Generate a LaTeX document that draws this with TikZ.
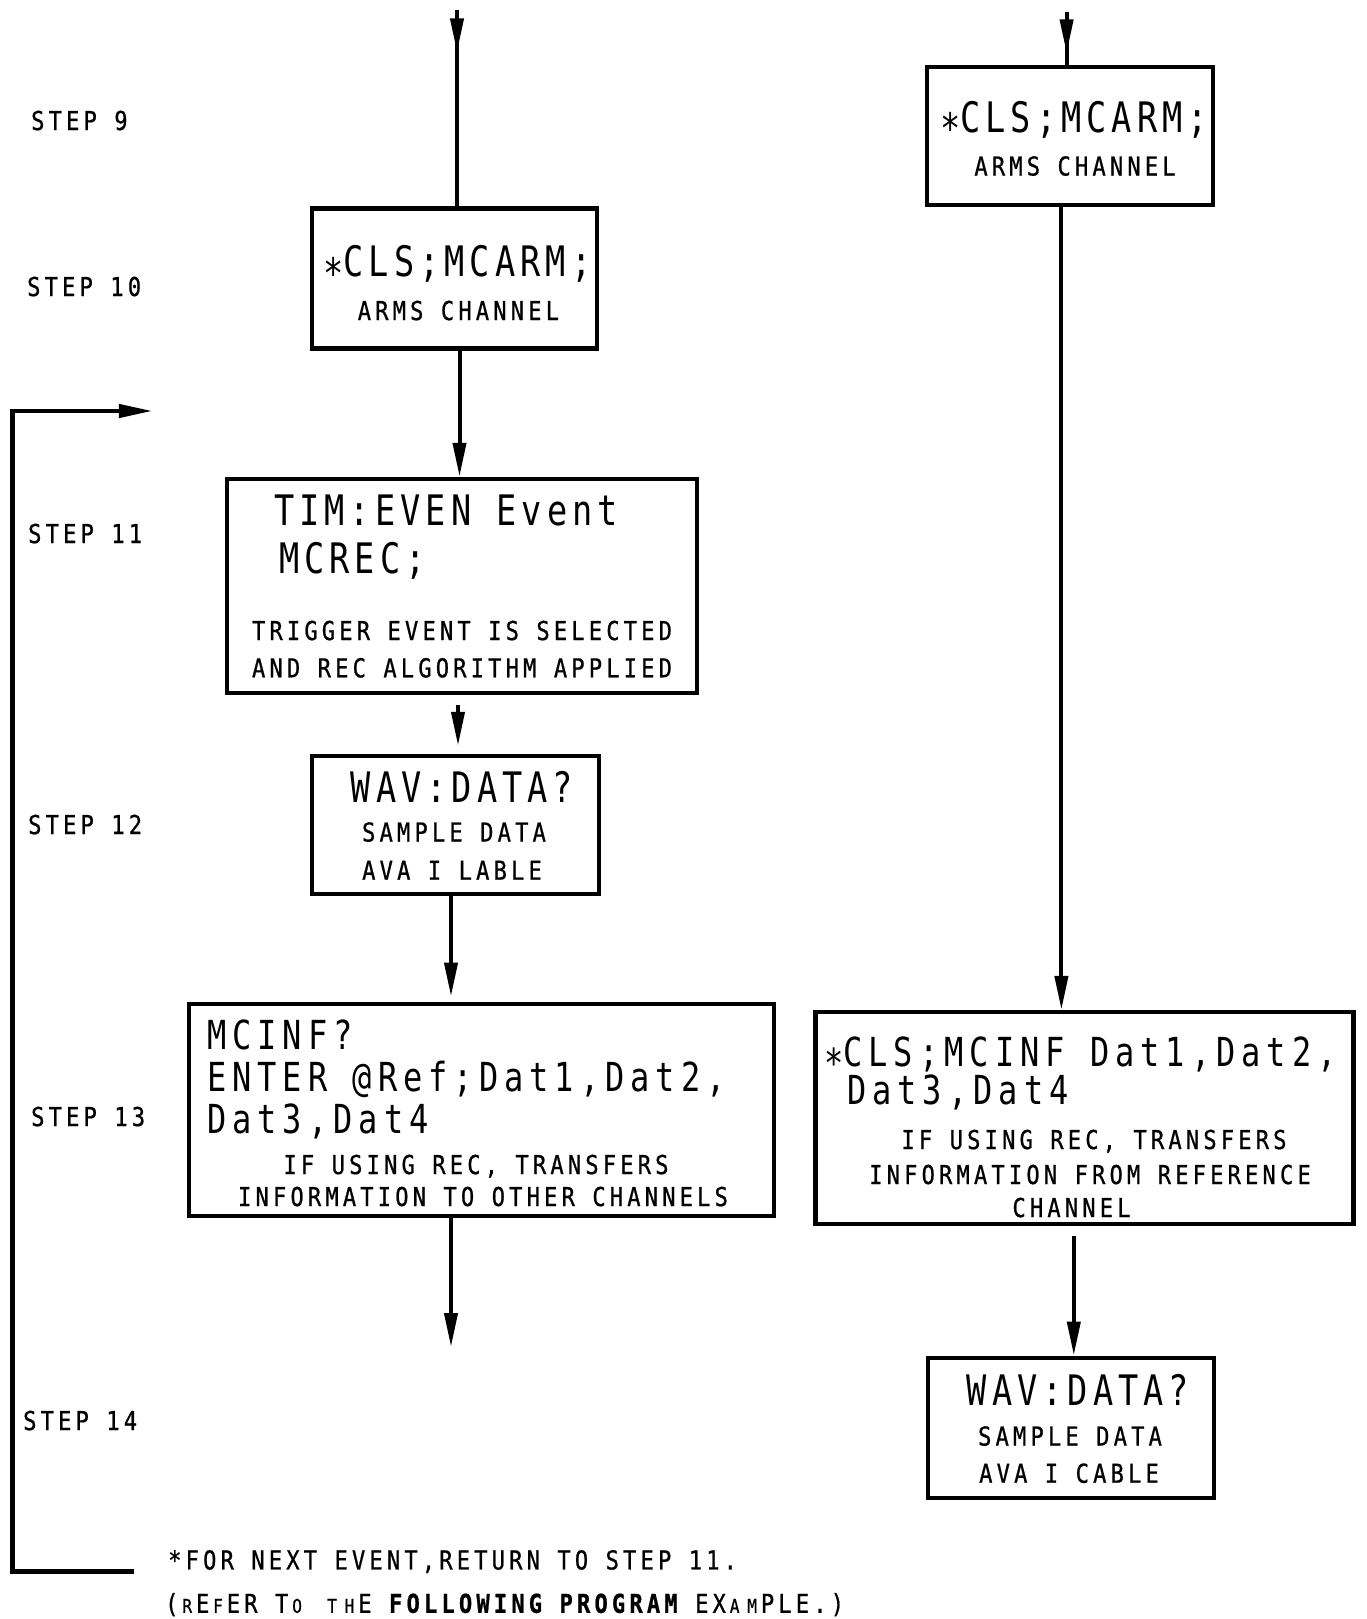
\documentclass[tikz,border=0pt]{standalone}
\usepackage{fontspec}
\setmainfont{DejaVu Sans Mono}
% plotter-like monospaced lettering: narrow glyphs on a wide, fixed pitch
\newfontfamily\codefont[FakeStretch=0.8,LetterSpace=12]{DejaVu Sans Mono}
\newfontfamily\codefontsm[FakeStretch=0.8,LetterSpace=15]{DejaVu Sans Mono}
\newfontfamily\labelfont[FakeStretch=0.85,LetterSpace=16,FakeBold=0.8]{DejaVu Sans Mono}
\usetikzlibrary{arrows.meta,calc}
% a reduced capital that still takes one full character cell
\newcommand\lowcap[1]{\makebox[17.5pt][c]{\fontsize{19pt}{19pt}\selectfont #1}}
% centred asterisk of the command lines
\newcommand\cmdstar{\raisebox{-0.27em}{*}}
\begin{document}
\begin{tikzpicture}[x=1pt,y=-1pt,
  box/.style={draw,line width=4.5pt,inner sep=0pt},
  conn/.style={line width=4pt},
  arr/.style={conn,-{Triangle[length=34pt,width=13pt]}},
  code/.style={inner sep=0pt,font=\codefont\fontsize{42pt}{42pt}\selectfont},
  codesm/.style={inner sep=0pt,font=\codefontsm\fontsize{40pt}{40pt}\selectfont},
  lbl/.style={inner sep=0pt,font=\labelfont\fontsize{26pt}{26pt}\selectfont},
  steplbl/.style={inner sep=0pt,anchor=base west,font=\labelfont\fontsize{26pt}{26pt}\selectfont},
]
\useasboundingbox (0,0) rectangle (1366,1619);

% step labels
\node[steplbl] (s9)  at (31,130)  {STEP 9};
\node[steplbl] (s10) at (27,296)  {STEP 10};
\node[steplbl] (s11) at (28,543)  {STEP 11};
\node[steplbl] (s12) at (28,834)  {STEP 12};
\node[steplbl] (s13) at (31,1126) {STEP 13};
\node[steplbl] (s14) at (23,1430) {STEP 14};

% boxes
\node[box,minimum width=285pt,minimum height=140pt] (b10)  at (454.5,278.7) {};
\node[box,minimum width=286pt,minimum height=138pt] (r9)   at (1070,136.2)  {};
\node[box,minimum width=470pt,minimum height=214pt] (b11)  at (462,586)     {};
\node[box,minimum width=287pt,minimum height=138pt] (b12)  at (455.4,825)   {};
\node[box,minimum width=585pt,minimum height=212pt] (b13)  at (481.7,1109.8){};
\node[box,minimum width=538pt,minimum height=212pt] (r13)  at (1084.6,1118.2){};
\node[box,minimum width=286pt,minimum height=140pt] (r14)  at (1071,1427.8)  {};

% box texts
\node[code,anchor=base] (b10a) at (457.4,276.7) {\cmdstar CLS;MCARM;};
\node[lbl,anchor=base]  (b10b) at (458.4,320)   {ARMS CHANNEL};

\node[code,anchor=base] (r9a) at (1074,132)   {\cmdstar CLS;MCARM;};
\node[lbl,anchor=base]  (r9b) at (1075,175.5) {ARMS CHANNEL};

\node[code,anchor=base west] (b11a) at (274,525.5) {TIM:EVEN Event};
\node[code,anchor=base west] (b11b) at (279,573)   {MCREC;};
\node[lbl,anchor=base] (b11c) at (462,640)   {TRIGGER EVENT IS SELECTED};
\node[lbl,anchor=base] (b11d) at (462,677.3) {AND REC ALGORITHM APPLIED};

\node[code,anchor=base] (b12a) at (462,802)   {WAV:DATA?};
\node[lbl,anchor=base]  (b12b) at (454,841.5) {SAMPLE DATA};
\node[lbl,anchor=base]  (b12c) at (452,879.7) {AVA I LABLE};

\node[codesm,anchor=base west] (b13a) at (207,1049)   {MCINF?};
\node[codesm,anchor=base west] (b13b) at (207,1091.4) {ENTER @Ref;Dat1,Dat2,};
\node[codesm,anchor=base west] (b13c) at (207,1133.7) {Dat3,Dat4};
\node[lbl,anchor=base] (b13d) at (476,1174) {IF USING REC, TRANSFERS};
\node[lbl,anchor=base] (b13e) at (483,1206) {INFORMATION TO OTHER CHANNELS};

\node[codesm,anchor=base west] (r13a) at (824,1066.6)  {\cmdstar CLS;MCINF Dat1,Dat2,};
\node[codesm,anchor=base west] (r13b) at (847,1104.5)  {Dat3,Dat4};
\node[lbl,anchor=base] (r13c) at (1094,1149)  {IF USING REC, TRANSFERS};
\node[lbl,anchor=base] (r13d) at (1090,1184)  {INFORMATION FROM REFERENCE};
\node[lbl,anchor=base] (r13e) at (1071.5,1217){CHANNEL};

\node[code,anchor=base] (r14a) at (1078,1405)   {WAV:DATA?};
\node[lbl,anchor=base]  (r14b) at (1070,1445.5) {SAMPLE DATA};
\node[lbl,anchor=base]  (r14c) at (1069,1482.7) {AVA I CABLE};

% footnote
\node[steplbl] (n1) at (168,1569.4) {*FOR NEXT EVENT,RETURN TO STEP 11.};
\node[steplbl] (n2) at (165,1612.8)
  {(\lowcap{R}E\lowcap{F}ER T\lowcap{O} \lowcap{T}\lowcap{H}E {\bfseries FOLLOWING PROGRAM} EX\lowcap{A}\lowcap{M}PLE.)};

% free ends of the flow
\coordinate (inL)  at (457,10.3);
\coordinate (inR)  at (1066.6,12.4);
\coordinate (outL) at (451,1347);
\coordinate (fbA)  at (134,1571.5);
\coordinate (fbB)  at (12.4,1571.5);
\coordinate (fbC)  at (12.4,411);
\coordinate (fbD)  at (152.8,411);

% left column connectors
\draw[conn] (inL) -- (inL |- b10.north);
\draw[arr]  (inL) -- ++(0,42);
\draw[arr] ($(b10.south)+(5,0)$) -- ($(b10.south |- b11.north)+(5,0)$);
\draw[arr] ($(b11.south)+(-4,10)$) -- ($(b11.south |- b12.north)+(-4,-8)$);
\draw[arr] ($(b12.south)+(-4.4,0)$) -- ($(b12.south |- b13.north)+(-4.4,-5)$);
\draw[arr] (b13.south -| outL) -- (outL);

% right column connectors
\draw[conn] (inR) -- (inR |- r9.north);
\draw[arr]  (inR) -- ++(0,41);
\draw[arr] ($(r9.south)+(-8.6,0)$) -- ($(r9.south |- r13.north)+(-8.6,0)$);
\draw[arr] ($(r13.south)+(-10.8,10)$) -- ($(r13.south |- r14.north)+(-10.8,0)$);

% return path to step 11
\draw[conn,line width=4.5pt,-{Triangle[length=34pt,width=13pt]}] (fbA) -- (fbB) -- (fbC) -- (fbD);
\end{tikzpicture}
\end{document}
